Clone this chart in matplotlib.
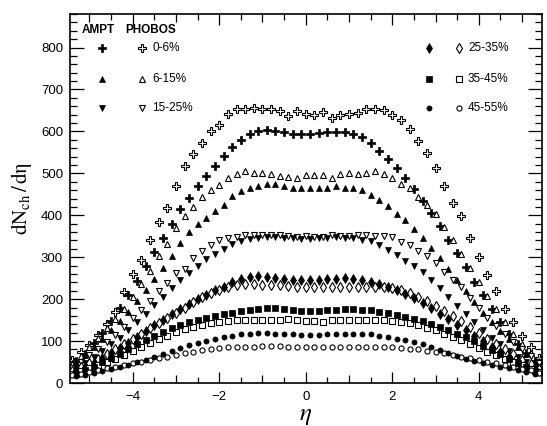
import numpy as np
import matplotlib.pyplot as plt
import matplotlib.transforms as mtransforms

plt.rcParams['font.family'] = ['Liberation Sans', 'DejaVu Sans']
plt.rcParams['mathtext.fontset'] = 'stix'

# eta grids: PHOBOS points on even tenths, AMPT points on odd tenths
eta_phobos = [-5.4, -5.2, -5.0, -4.8, -4.6, -4.4, -4.2, -4.0, -3.8, -3.6, -3.4, -3.2, -3.0, -2.8,
              -2.6, -2.4, -2.2, -2.0, -1.8, -1.6, -1.4, -1.2, -1.0, -0.8, -0.6, -0.4, -0.2, 0.0,
              0.2, 0.4, 0.6, 0.8, 1.0, 1.2, 1.4, 1.6, 1.8, 2.0, 2.2, 2.4, 2.6, 2.8, 3.0, 3.2,
              3.4, 3.6, 3.8, 4.0, 4.2, 4.4, 4.6, 4.8, 5.0, 5.2, 5.4]
eta_ampt = [-5.3, -5.1, -4.9, -4.7, -4.5, -4.3, -4.1, -3.9, -3.7, -3.5, -3.3, -3.1, -2.9, -2.7,
            -2.5, -2.3, -2.1, -1.9, -1.7, -1.5, -1.3, -1.1, -0.9, -0.7, -0.5, -0.3, -0.1,
            0.1, 0.3, 0.5, 0.7, 0.9, 1.1, 1.3, 1.5, 1.7, 1.9, 2.1, 2.3, 2.5, 2.7, 2.9, 3.1,
            3.3, 3.5, 3.7, 3.9, 4.1, 4.3, 4.5, 4.7, 4.9, 5.1, 5.3]

# PHOBOS dN/deta (open markers)
phobos_0_6 = [55, 73, 90, 114, 140, 170, 218, 260, 294, 340, 385, 418, 469, 517,
              545, 572, 600, 616, 641, 653, 654, 656, 654, 653, 648, 637, 648, 641,
              638, 646, 633, 638, 642, 645, 653, 654, 650, 638, 628, 605, 577, 548,
              512, 470, 430, 398, 345, 300, 257, 220, 177, 145, 112, 86, 60]
phobos_6_15 = [45, 64, 86, 108, 130, 152, 176, 205, 235, 266, 302, 332, 370, 398,
               420, 444, 461, 473, 489, 498, 505, 502, 502, 498, 494, 492, 489, 497,
               497, 497, 489, 498, 502, 498, 501, 505, 498, 489, 474, 464, 444, 425,
               404, 372, 340, 308, 275, 241, 208, 176, 146, 118, 94, 72, 52]
phobos_15_25 = [35, 50, 66, 82, 98, 114, 134, 154, 174, 196, 220, 238, 262, 272,
                297, 315, 330, 340, 345, 348, 352, 353, 354, 353, 352, 350, 348, 350,
                348, 349, 352, 350, 351, 353, 352, 350, 350, 348, 337, 329, 314, 302,
                285, 264, 246, 228, 202, 178, 155, 137, 118, 98, 82, 65, 48]
phobos_25_35 = [28, 38, 48, 58, 70, 82, 94, 106, 118, 130, 142, 155, 168, 180,
                192, 204, 214, 222, 228, 234, 236, 236, 234, 233, 233, 231, 230, 230,
                228, 228, 230, 230, 230, 229, 230, 230, 229, 226, 221, 214, 205, 195,
                184, 172, 160, 148, 134, 120, 106, 93, 80, 68, 56, 45, 34]
phobos_35_45 = [22, 28, 35, 42, 50, 58, 67, 76, 86, 95, 104, 113, 121, 128,
                134, 139, 143, 146, 148, 150, 151, 151, 151, 151, 151, 152, 150, 149,
                149, 146, 150, 151, 150, 150, 150, 150, 150, 149, 146, 143, 138, 132,
                126, 118, 110, 102, 93, 84, 75, 66, 58, 50, 42, 34, 27]
phobos_45_55 = [18, 22, 27, 31, 35, 39, 43, 47, 51, 55, 59, 63, 67, 71,
                75, 78, 81, 83, 85, 86, 87, 87, 88, 88, 88, 87, 86, 86,
                85, 86, 86, 86, 87, 87, 87, 86, 86, 85, 84, 82, 80, 77,
                74, 71, 67, 63, 59, 55, 51, 47, 42, 38, 34, 30, 25]

# AMPT dN/deta (filled markers)
ampt_0_6 = [52, 70, 95, 120, 148, 178, 210, 244, 278, 312, 346, 380, 414, 442,
            469, 494, 518, 542, 562, 579, 594, 601, 603, 601, 598, 594, 594,
            594, 596, 598, 598, 598, 594, 586, 572, 554, 534, 512, 489, 462, 434,
            406, 374, 342, 310, 276, 242, 209, 177, 146, 118, 94, 72, 52]
ampt_6_15 = [50, 66, 86, 106, 126, 148, 170, 196, 222, 249, 275, 304, 335, 360,
             378, 393, 410, 425, 445, 458, 466, 470, 474, 474, 470, 466, 465,
             465, 465, 466, 469, 466, 464, 461, 449, 437, 421, 404, 388, 368, 346,
             322, 298, 272, 246, 220, 194, 168, 146, 124, 104, 86, 68, 52]
ampt_15_25 = [36, 48, 62, 76, 92, 108, 126, 145, 165, 186, 206, 226, 246, 262,
              280, 295, 308, 320, 332, 338, 343, 345, 347, 347, 346, 345, 344,
              344, 345, 346, 347, 346, 345, 342, 338, 330, 318, 305, 292, 278, 264,
              246, 226, 204, 184, 164, 145, 126, 108, 92, 76, 62, 49, 37]
ampt_25_35 = [30, 38, 48, 59, 71, 83, 96, 110, 124, 138, 151, 164, 177, 189,
              200, 211, 221, 230, 242, 249, 252, 254, 252, 250, 249, 246, 245,
              245, 246, 249, 249, 250, 249, 245, 241, 236, 229, 221, 212, 202, 190,
              178, 165, 152, 139, 126, 112, 99, 86, 74, 62, 51, 41, 32]
ampt_35_45 = [22, 30, 39, 49, 59, 70, 81, 92, 103, 113, 122, 130, 138, 145,
              150, 155, 160, 164, 168, 172, 174, 177, 178, 178, 176, 174, 172,
              172, 172, 173, 174, 176, 177, 175, 173, 170, 166, 162, 158, 153, 148,
              141, 134, 126, 118, 109, 99, 88, 78, 68, 58, 47, 37, 28]
ampt_45_55 = [16, 20, 24, 28, 33, 38, 43, 49, 55, 62, 69, 76, 83, 90,
              96, 101, 105, 109, 113, 116, 118, 120, 120, 118, 118, 116, 114,
              114, 114, 116, 117, 118, 118, 118, 116, 113, 110, 106, 102, 98, 92,
              85, 78, 71, 64, 58, 53, 48, 43, 39, 35, 31, 27, 22]

centralities = ['0-6%', '6-15%', '15-25%', '25-35%', '35-45%', '45-55%']
phobos_sets = [phobos_0_6, phobos_6_15, phobos_15_25, phobos_25_35, phobos_35_45, phobos_45_55]
ampt_sets = [ampt_0_6, ampt_6_15, ampt_15_25, ampt_25_35, ampt_35_45, ampt_45_55]

# marker style per centrality: (marker, size)
styles = [('P', 5.4), ('^', 4.3), ('v', 4.3), ('d', 4.7), ('s', 3.7), ('o', 3.7)]

fig = plt.figure(figsize=(5.47, 4.26), dpi=100)
ax = fig.add_axes([70/547, 1-383/426, 471.5/547, 369/426])

for k in range(6):
    m, ms = styles[k]
    ax.plot(eta_phobos, phobos_sets[k], linestyle='none', marker=m, ms=ms,
            mfc='white', mec='black', mew=0.8)
    ax.plot(eta_ampt, ampt_sets[k], linestyle='none', marker=m, ms=ms,
            mfc='black', mec='black', mew=0.5)

ax.set_xlim(-5.45, 5.45)
ax.set_ylim(0, 880)

# ROOT-like axes: ticks inside on all four sides
xmaj = [-5, -4, -3, -2, -1, 0, 1, 2, 3, 4, 5]
ax.set_xticks(xmaj)
ax.set_xticklabels(['', '\u22124', '', '\u22122', '', '0', '', '2', '', '4', ''])
ax.set_xticks(np.arange(-5.0, 5.5, 0.5), minor=True)
ax.set_yticks(np.arange(0, 900, 100))
ax.set_yticks(np.arange(0, 881, 20), minor=True)
ax.tick_params(which='both', direction='in', top=True, right=True, width=0.9)
ax.tick_params(axis='x', which='major', length=8, pad=6, labelsize=9.5)
ax.tick_params(axis='x', which='minor', length=4)
ax.tick_params(axis='y', which='major', length=10, pad=5, labelsize=9.5)
ax.tick_params(axis='y', which='minor', length=5)
for tick, loc in zip(ax.xaxis.get_major_ticks(), xmaj):
    if loc % 2 != 0:   # medium ticks at odd integers
        tick.tick1line.set_markersize(5.5)
        tick.tick2line.set_markersize(5.5)
for sp in ax.spines.values():
    sp.set_linewidth(1.2)

ax.set_xlabel(r'$\eta$', fontsize=18, labelpad=0)
ax.set_ylabel(r'$\mathrm{dN_{ch}\,/\,d\eta}$', fontsize=15, labelpad=5)

# legend drawn by hand, ROOT style (x in axes fraction, y in data units)
blend = mtransforms.blended_transform_factory(ax.transAxes, ax.transData)
leg_y = [800, 725, 657]
ax.text(0.025, 842, 'AMPT', transform=blend, fontsize=8.5, fontweight='bold', va='center')
ax.text(0.117, 842, 'PHOBOS', transform=blend, fontsize=8.5, fontweight='bold', va='center')
for k in range(6):
    m, ms = styles[k]
    yy = leg_y[k % 3]
    if k < 3:
        xa, xp, xt = 0.068, 0.153, 0.174
    else:
        xa, xp, xt = 0.761, 0.825, 0.844
    ax.plot([xa], [yy], transform=blend, linestyle='none', marker=m, ms=ms,
            mfc='black', mec='black', mew=0.5)
    ax.plot([xp], [yy], transform=blend, linestyle='none', marker=m, ms=ms,
            mfc='white', mec='black', mew=0.8)
    ax.text(xt, yy, centralities[k], transform=blend, fontsize=8.5, va='center')

fig.savefig('out.png', dpi=100)
